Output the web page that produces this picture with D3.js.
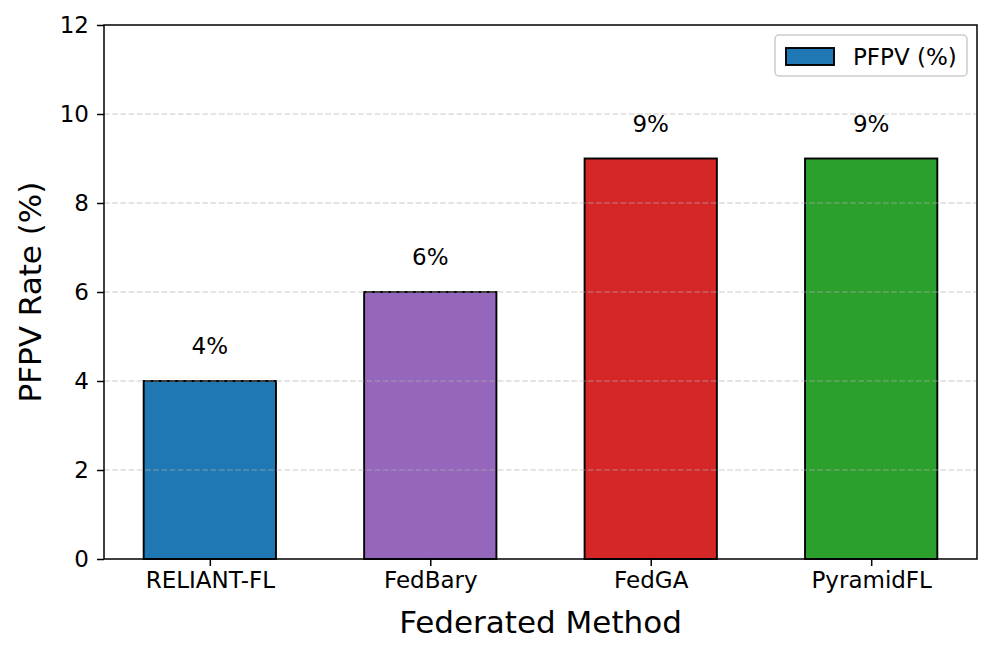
<!DOCTYPE html>
<html>
<head>
<meta charset="utf-8">
<script src="https://cdn.jsdelivr.net/npm/d3@7"></script>
<style>
  body { margin: 0; background: #fff; }
  text { font-family: "DejaVu Sans", sans-serif; fill: #000; }
</style>
</head>
<body>
<script>
// chart data
var methods = ["RELIANT-FL", "FedBary", "FedGA", "PyramidFL"]
var pfpv = [4, 6, 9, 9]
var barColors = ["#1f77b4", "#9467bd", "#d62728", "#2ca02c"]
var yTicks = [0, 2, 4, 6, 8, 10, 12]
var gridTicks = [2, 4, 6, 8, 10]

var W = 996, H = 657
var plotL = 104, plotR = 977, plotT = 25, plotB = 559

var svg = d3.select("body").append("svg")
    .attr("width", W)
    .attr("height", H)

var x = d3.scaleLinear().domain([-0.48, 3.48]).range([plotL, plotR])
var y = d3.scaleLinear().domain([0, 12]).range([plotB, plotT])
var barW = x(0.6) - x(0)

// bars
svg.selectAll(".bar")
    .data(pfpv)
    .enter().append("rect")
    .attr("class", "bar")
    .attr("x", function(d, i) { return x(i) - barW / 2 })
    .attr("y", function(d) { return y(d) })
    .attr("width", barW)
    .attr("height", function(d) { return y(0) - y(d) })
    .attr("fill", function(d, i) { return barColors[i] })
    .attr("stroke", "#000")
    .attr("stroke-width", 1.9)

// grid on top of bars
svg.selectAll(".grid")
    .data(gridTicks)
    .enter().append("line")
    .attr("class", "grid")
    .attr("x1", plotL).attr("x2", plotR)
    .attr("y1", function(d) { return y(d) })
    .attr("y2", function(d) { return y(d) })
    .attr("stroke", "#b0b0b0")
    .attr("stroke-opacity", 0.45)
    .attr("stroke-width", 1.5)
    .attr("stroke-dasharray", "5.7,2.5")

// value labels
svg.selectAll(".val")
    .data(pfpv)
    .enter().append("text")
    .attr("class", "val")
    .attr("x", function(d, i) { return x(i) })
    .attr("y", function(d) { return y(d) - 27 })
    .attr("text-anchor", "middle")
    .style("font-size", "23px")
    .text(function(d) { return d + "%" })

// axes
var yAxis = d3.axisLeft(y).tickValues(yTicks).tickSize(7).tickPadding(8)
var gy = svg.append("g").attr("transform", "translate(" + plotL + ",0)").call(yAxis)
gy.selectAll("text").style("font-size", "23px").style("font-family", "DejaVu Sans")

var xAxis = d3.axisBottom(x).tickValues([0, 1, 2, 3])
    .tickFormat(function(d) { return methods[d] }).tickSize(7).tickPadding(6)
var gx = svg.append("g").attr("transform", "translate(0," + plotB + ")").call(xAxis)
gx.selectAll("text").style("font-size", "23px").style("font-family", "DejaVu Sans")

svg.selectAll(".domain").remove()
svg.selectAll(".tick line").attr("stroke", "#000").attr("stroke-width", 1.5)

// frame
svg.append("rect")
    .attr("x", plotL).attr("y", plotT)
    .attr("width", plotR - plotL).attr("height", plotB - plotT)
    .attr("fill", "none")
    .attr("stroke", "#000")
    .attr("stroke-width", 1.5)

// axis titles
svg.append("text")
    .attr("x", (plotL + plotR) / 2)
    .attr("y", 633)
    .attr("text-anchor", "middle")
    .style("font-size", "31px")
    .text("Federated Method")

svg.append("text")
    .attr("transform", "translate(41," + (plotT + plotB) / 2 + ") rotate(-90)")
    .attr("text-anchor", "middle")
    .style("font-size", "31px")
    .text("PFPV Rate (%)")

// legend
var lg = svg.append("g")
lg.append("rect")
    .attr("x", 775).attr("y", 35)
    .attr("width", 192).attr("height", 41)
    .attr("rx", 4)
    .attr("fill", "#fff").attr("fill-opacity", 0.8)
    .attr("stroke", "#cccccc").attr("stroke-width", 1.5)
lg.append("rect")
    .attr("x", 786).attr("y", 48)
    .attr("width", 48).attr("height", 17)
    .attr("fill", barColors[0])
    .attr("stroke", "#000").attr("stroke-width", 1.9)
lg.append("text")
    .attr("x", 853).attr("y", 64.5)
    .style("font-size", "23px")
    .text("PFPV (%)")
</script>
</body>
</html>
